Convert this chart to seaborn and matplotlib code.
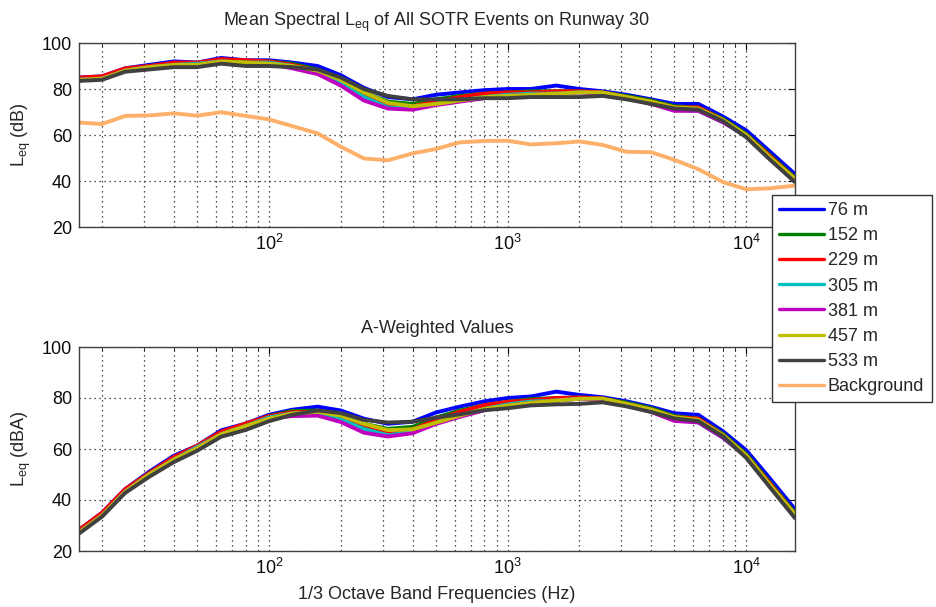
import numpy as np
import pandas as pd
import matplotlib
matplotlib.use("Agg")
import matplotlib.pyplot as plt
import seaborn as sns
from matplotlib.ticker import LogLocator, NullFormatter, MultipleLocator

# 1/3 octave band centre frequencies (Hz)
freqs = [16, 20, 25, 31.5, 40, 50, 63, 80, 100, 125, 160, 200, 250, 315, 400, 500,
         630, 800, 1000, 1250, 1600, 2000, 2500, 3150, 4000, 5000, 6300, 8000,
         10000, 12500, 16000]

# Standard A-weighting corrections for the same bands (dB)
a_weight = [-56.7, -50.5, -44.7, -39.4, -34.6, -30.2, -26.2, -22.5, -19.1, -16.1,
            -13.4, -10.9, -8.6, -6.6, -4.8, -3.2, -1.9, -0.8, 0.0, 0.6, 1.0, 1.2,
            1.3, 1.2, 1.0, 0.5, -0.1, -1.1, -2.5, -4.3, -6.6]

# Mean spectral Leq (dB), one list per distance
leq_76 = [85, 85.5, 89, 90.5, 92, 91.5, 93.5, 92.5, 92.5, 91.5, 90, 86, 80.5, 76.5, 75.5,
          77.5, 78.5, 79.5, 80, 80, 81.5, 80, 79, 77.5, 75.5, 73.5, 73.5, 68, 62, 53, 43]
leq_152 = [84.5, 85, 88.5, 90, 91, 91, 92.5, 92, 92, 91, 88.5, 84, 78.5, 74.5, 73.5,
           75.5, 77, 78, 78.5, 79, 79, 79, 78.5, 77, 75, 72.5, 72, 67, 60.5, 51.5, 41.5]
leq_229 = [85, 85.5, 89, 90, 91.5, 91.5, 93, 92.5, 92, 90.5, 88, 83.5, 77.5, 73, 72.5,
           74.5, 76.5, 78, 78.5, 78.5, 79, 79, 78.5, 76.5, 74.5, 72, 72, 66.5, 60, 51, 41]
leq_305 = [84, 84.5, 88, 89.5, 90.5, 91, 92, 91.5, 91.5, 90, 87.5, 82.5, 76.5, 72, 71.5,
           73.5, 75, 76.5, 77.5, 78, 78, 78.5, 78, 76, 74, 71, 70.5, 65.5, 59.5, 50, 40]
leq_381 = [84, 84.5, 88, 89.5, 90.5, 90.5, 92, 91, 91, 89, 86.5, 81.5, 75, 71.5, 71,
           73, 74.5, 76, 77, 77.5, 78, 78.5, 78, 76, 73.5, 70.5, 70.5, 65.5, 59.5, 50, 40]
leq_457 = [84, 84.5, 88, 89.5, 90.5, 90.5, 92, 91.5, 91, 90, 88, 84, 78.5, 74, 72.5,
           73.5, 75, 76.5, 77, 77.5, 78, 78.5, 78.5, 76.5, 74.5, 72, 71.5, 66.5, 60, 50.5, 41]
leq_533 = [83.5, 84, 87.5, 88.5, 89.5, 89.5, 91, 90, 90, 89.5, 88.5, 85, 80, 77, 75.5,
           75.5, 75.5, 76, 76, 76.5, 76.5, 76.5, 77, 75.5, 73.5, 71.5, 71, 66, 59, 49.5, 39.5]
leq_bg = [65.4, 64.8, 68.3, 68.5, 69.4, 68.4, 69.9, 68.3, 66.8, 63.9, 60.7, 54.9, 49.8,
          49, 52, 53.9, 56.8, 57.4, 57.5, 55.9, 56.4, 57.2, 55.7, 52.7, 52.5, 49.2, 45.1,
          39.5, 36.4, 36.8, 38]

labels = ["76 m", "152 m", "229 m", "305 m", "381 m", "457 m", "533 m", "Background"]
series = [leq_76, leq_152, leq_229, leq_305, leq_381, leq_457, leq_533, leq_bg]
colors = ["#0000FF", "#007F00", "#FF0000", "#00BFBF", "#BF00BF", "#BFBF00",
          "#404040", "#FDB06A"]
palette = dict(zip(labels, colors))

# Long-form tables for seaborn
rows = []
for name, vals in zip(labels, series):
    for f, v, a in zip(freqs, vals, a_weight):
        rows.append({"freq": f, "level": v, "dba": v + a, "series": name})
df = pd.DataFrame(rows)
df_a = df[df["series"] != "Background"]

sns.set_style("white")
plt.rcParams["font.family"] = ["Liberation Sans", "DejaVu Sans"]
plt.rcParams["mathtext.fontset"] = "custom"
plt.rcParams["mathtext.rm"] = "Liberation Sans"
plt.rcParams["mathtext.it"] = "Liberation Sans:italic"
plt.rcParams["mathtext.bf"] = "Liberation Sans:bold"

fig = plt.figure(figsize=(9.37, 6.07), dpi=100)
W, H = 937, 607
ax1 = fig.add_axes([79 / W, 1 - 227 / H, (795 - 79) / W, 184 / H])
ax2 = fig.add_axes([79 / W, 1 - 551 / H, (795 - 79) / W, 204 / H])

fs = 13
sns.lineplot(data=df, x="freq", y="level", hue="series", hue_order=labels,
             palette=palette, linewidth=2.8, ax=ax1, legend=True)
sns.lineplot(data=df_a, x="freq", y="dba", hue="series", hue_order=labels[:-1],
             palette=palette, linewidth=2.8, ax=ax2, legend=False)

handles, leg_labels = ax1.get_legend_handles_labels()
ax1.get_legend().remove()

dots = (0, (1, 3))
for ax in (ax1, ax2):
    ax.set_xscale("log")
    ax.set_xlim(16, 16000)
    ax.set_ylim(20, 100)
    ax.yaxis.set_major_locator(MultipleLocator(20))
    ax.xaxis.set_major_locator(LogLocator(base=10, numticks=10))
    ax.xaxis.set_minor_locator(LogLocator(base=10, subs=np.arange(2, 10), numticks=20))
    ax.xaxis.set_minor_formatter(NullFormatter())
    ax.grid(True, which="major", axis="both", linestyle=dots, color="0.1", linewidth=0.9)
    ax.grid(True, which="minor", axis="x", linestyle=dots, color="0.1", linewidth=0.9)
    ax.tick_params(which="both", direction="in", top=True, right=True,
                   labelsize=fs, colors="0.05", pad=5)
    ax.tick_params(which="major", length=5, width=0.8)
    ax.tick_params(which="minor", length=3, width=0.6)
    for s in ax.spines.values():
        s.set_color("0.25")
        s.set_linewidth(1.0)
    ax.set_xlabel("")

ax1.set_title(r"Mean Spectral L$_{\mathregular{eq}}$ of All SOTR Events on Runway 30",
              fontsize=fs, pad=12)
ax1.set_ylabel(r"L$_{\mathregular{eq}}$ (dB)", fontsize=fs, labelpad=6)
ax2.set_title("A-Weighted Values", fontsize=fs, pad=10)
ax2.set_ylabel(r"L$_{\mathregular{eq}}$ (dBA)", fontsize=fs, labelpad=6)
ax2.set_xlabel("1/3 Octave Band Frequencies (Hz)", fontsize=fs, labelpad=6)

for h in handles:
    h.set_linewidth(2.4)
leg = fig.legend(handles, leg_labels, loc="upper left",
                 bbox_to_anchor=(772 / W, 1 - 195 / H), fontsize=fs,
                 frameon=True, fancybox=False, shadow=False, framealpha=1,
                 edgecolor="0.2", handlelength=2.5, handletextpad=0.2,
                 labelspacing=0.45, borderpad=0.4, borderaxespad=0)
leg.get_frame().set_linewidth(1.0)

fig.savefig("out.png", dpi=100)
